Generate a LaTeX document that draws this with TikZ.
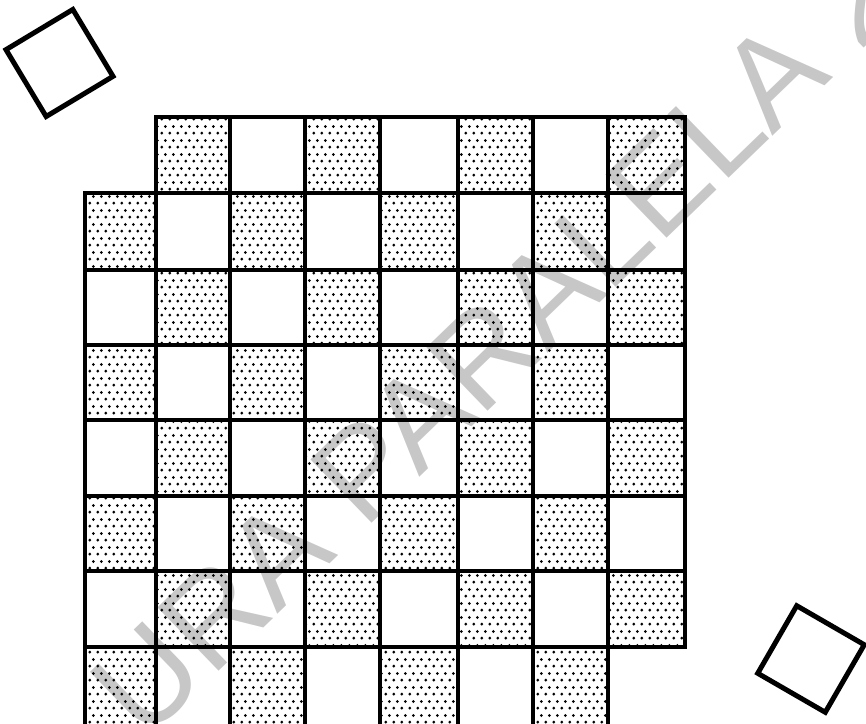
\documentclass[tikz,border=0pt]{standalone}
\usepackage{fontspec}
\newfontfamily\wmfont{Liberation Sans}
\usetikzlibrary{patterns.meta}
\tikzdeclarepattern{
  name=stipple,
  type=uncolored,
  bounding box={(0pt,0pt) and (4pt,7pt)},
  tile size={(4pt,7pt)},
  code={
    \fill (1pt,1pt) circle [radius=0.85pt];
    \fill (3pt,4.5pt) circle [radius=0.85pt];
  }
}
\tikzset{
  cellline/.style={line width=2.4pt, line join=miter},
  darkcell/.style={cellline, pattern={stipple}, pattern color=black},
  lightcell/.style={cellline},
  tile/.style={draw, line width=2.5pt, minimum size=39pt, inner sep=0pt, outer sep=0pt},
  watermark/.style={font=\wmfont\fontsize{64}{64}\selectfont, text=black!22, inner sep=0pt}
}
\begin{document}
\begin{tikzpicture}[x=0.5pt,y=-0.5pt]
\useasboundingbox (0,0) rectangle (866,723);
\node[watermark, rotate=44] (wm) at (497,341) {URA PARALELA 2};
\foreach \c/\x in {0/85,1/156,2/230,3/305,4/380,5/458,6/533,7/608,8/685}{
  \foreach \r/\y in {0/117,1/193,2/270,3/345,4/420,5/496,6/571,7/647,8/727}{
    \coordinate (g-\r-\c) at (\x,\y);
  }
}
\foreach \r in {0,...,7}{
  \foreach \c in {0,...,7}{
    \pgfmathtruncatemacro\rn{\r+1}
    \pgfmathtruncatemacro\cn{\c+1}
    \pgfmathtruncatemacro\parity{mod(\r+\c,2)}
    \pgfmathtruncatemacro\skipit{(\r==0 && \c==0) || (\r==7 && \c==7)}
    \ifnum\skipit=0
      \ifnum\parity=1
        \draw[darkcell] (g-\r-\c) rectangle (g-\rn-\cn);
      \else
        \draw[lightcell] (g-\r-\c) rectangle (g-\rn-\cn);
      \fi
    \fi
  }
}
\node[tile, rotate=31] (sq1) at (59.5,63) {};
\node[tile, rotate=-30] (sq2) at (811,659) {};
\end{tikzpicture}
\end{document}
